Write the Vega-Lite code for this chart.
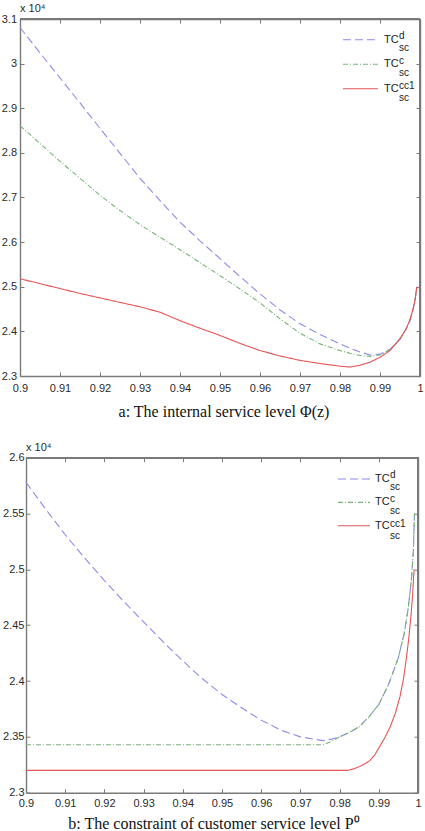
{
  "$schema": "https://vega.github.io/schema/vega-lite/v6.json",
  "padding": {"left": 0, "top": 3, "right": 0, "bottom": 0},
  "spacing": 21.7,
  "resolve": {
    "scale": {"color": "independent", "strokeDash": "independent", "opacity": "independent"},
    "legend": {"color": "independent", "strokeDash": "independent", "opacity": "independent"}
  },
  "config": {
    "font": "Liberation Sans",
    "view": {"stroke": null},
    "axis": {"grid": false, "domainColor": "#7a7a7a", "domainWidth": 1.4, "tickColor": "#7a7a7a", "tickWidth": 1, "tickSize": -4, "labelFont": "Liberation Sans", "labelFontSize": 11, "labelColor": "#2a2a2a", "labelFlush": false, "labelOverlap": false, "titleFont": "Liberation Serif", "titleFontSize": 16, "titleFontWeight": "normal", "titleColor": "#111111"},
    "title": {"fontSize": 11, "fontWeight": "normal", "anchor": "start", "frame": "group", "font": "Liberation Sans", "color": "#2a2a2a", "offset": -1}
  },
  "datasets": {
    "a": [
      {"x":0.9,"y":3.081,"series":"TC_sc^d","sup":"d"},{"x":0.905,"y":3.024,"series":"TC_sc^d","sup":"d"},{"x":0.91,"y":2.968,"series":"TC_sc^d","sup":"d"},{"x":0.915,"y":2.912,"series":"TC_sc^d","sup":"d"},{"x":0.92,"y":2.855,"series":"TC_sc^d","sup":"d"},{"x":0.925,"y":2.799,"series":"TC_sc^d","sup":"d"},{"x":0.93,"y":2.743,"series":"TC_sc^d","sup":"d"},{"x":0.935,"y":2.693,"series":"TC_sc^d","sup":"d"},{"x":0.94,"y":2.645,"series":"TC_sc^d","sup":"d"},{"x":0.945,"y":2.603,"series":"TC_sc^d","sup":"d"},{"x":0.95,"y":2.563,"series":"TC_sc^d","sup":"d"},{"x":0.955,"y":2.523,"series":"TC_sc^d","sup":"d"},{"x":0.96,"y":2.484,"series":"TC_sc^d","sup":"d"},{"x":0.965,"y":2.448,"series":"TC_sc^d","sup":"d"},{"x":0.97,"y":2.417,"series":"TC_sc^d","sup":"d"},{"x":0.975,"y":2.393,"series":"TC_sc^d","sup":"d"},{"x":0.98,"y":2.372,"series":"TC_sc^d","sup":"d"},{"x":0.9825,"y":2.362,"series":"TC_sc^d","sup":"d"},{"x":0.985,"y":2.354,"series":"TC_sc^d","sup":"d"},{"x":0.9875,"y":2.347,"series":"TC_sc^d","sup":"d"},{"x":0.99,"y":2.349,"series":"TC_sc^d","sup":"d"},{"x":0.9925,"y":2.36,"series":"TC_sc^d","sup":"d"},{"x":0.995,"y":2.382,"series":"TC_sc^d","sup":"d"},{"x":0.9965,"y":2.405,"series":"TC_sc^d","sup":"d"},{"x":0.9975,"y":2.425,"series":"TC_sc^d","sup":"d"},{"x":0.9983,"y":2.45,"series":"TC_sc^d","sup":"d"},{"x":0.9988,"y":2.472,"series":"TC_sc^d","sup":"d"},{"x":0.9992,"y":2.5,"series":"TC_sc^d","sup":"d"},
      {"x":0.9,"y":2.861,"series":"TC_sc^c","sup":"c"},{"x":0.905,"y":2.821,"series":"TC_sc^c","sup":"c"},{"x":0.91,"y":2.781,"series":"TC_sc^c","sup":"c"},{"x":0.915,"y":2.743,"series":"TC_sc^c","sup":"c"},{"x":0.92,"y":2.705,"series":"TC_sc^c","sup":"c"},{"x":0.925,"y":2.671,"series":"TC_sc^c","sup":"c"},{"x":0.93,"y":2.639,"series":"TC_sc^c","sup":"c"},{"x":0.935,"y":2.611,"series":"TC_sc^c","sup":"c"},{"x":0.94,"y":2.583,"series":"TC_sc^c","sup":"c"},{"x":0.945,"y":2.554,"series":"TC_sc^c","sup":"c"},{"x":0.95,"y":2.525,"series":"TC_sc^c","sup":"c"},{"x":0.955,"y":2.495,"series":"TC_sc^c","sup":"c"},{"x":0.96,"y":2.464,"series":"TC_sc^c","sup":"c"},{"x":0.965,"y":2.428,"series":"TC_sc^c","sup":"c"},{"x":0.97,"y":2.396,"series":"TC_sc^c","sup":"c"},{"x":0.975,"y":2.372,"series":"TC_sc^c","sup":"c"},{"x":0.98,"y":2.357,"series":"TC_sc^c","sup":"c"},{"x":0.9825,"y":2.351,"series":"TC_sc^c","sup":"c"},{"x":0.985,"y":2.346,"series":"TC_sc^c","sup":"c"},{"x":0.9875,"y":2.344,"series":"TC_sc^c","sup":"c"},{"x":0.99,"y":2.347,"series":"TC_sc^c","sup":"c"},{"x":0.9925,"y":2.359,"series":"TC_sc^c","sup":"c"},{"x":0.995,"y":2.382,"series":"TC_sc^c","sup":"c"},{"x":0.9965,"y":2.405,"series":"TC_sc^c","sup":"c"},{"x":0.9975,"y":2.425,"series":"TC_sc^c","sup":"c"},{"x":0.9983,"y":2.45,"series":"TC_sc^c","sup":"c"},{"x":0.9988,"y":2.472,"series":"TC_sc^c","sup":"c"},{"x":0.9992,"y":2.5,"series":"TC_sc^c","sup":"c"},
      {"x":0.9,"y":2.518,"series":"TC_sc^cc1","sup":"cc1"},{"x":0.905,"y":2.507,"series":"TC_sc^cc1","sup":"cc1"},{"x":0.91,"y":2.496,"series":"TC_sc^cc1","sup":"cc1"},{"x":0.915,"y":2.485,"series":"TC_sc^cc1","sup":"cc1"},{"x":0.92,"y":2.475,"series":"TC_sc^cc1","sup":"cc1"},{"x":0.925,"y":2.465,"series":"TC_sc^cc1","sup":"cc1"},{"x":0.93,"y":2.455,"series":"TC_sc^cc1","sup":"cc1"},{"x":0.935,"y":2.443,"series":"TC_sc^cc1","sup":"cc1"},{"x":0.94,"y":2.424,"series":"TC_sc^cc1","sup":"cc1"},{"x":0.945,"y":2.407,"series":"TC_sc^cc1","sup":"cc1"},{"x":0.95,"y":2.391,"series":"TC_sc^cc1","sup":"cc1"},{"x":0.955,"y":2.373,"series":"TC_sc^cc1","sup":"cc1"},{"x":0.96,"y":2.357,"series":"TC_sc^cc1","sup":"cc1"},{"x":0.965,"y":2.345,"series":"TC_sc^cc1","sup":"cc1"},{"x":0.97,"y":2.335,"series":"TC_sc^cc1","sup":"cc1"},{"x":0.975,"y":2.328,"series":"TC_sc^cc1","sup":"cc1"},{"x":0.98,"y":2.322,"series":"TC_sc^cc1","sup":"cc1"},{"x":0.9825,"y":2.32,"series":"TC_sc^cc1","sup":"cc1"},{"x":0.985,"y":2.324,"series":"TC_sc^cc1","sup":"cc1"},{"x":0.9875,"y":2.331,"series":"TC_sc^cc1","sup":"cc1"},{"x":0.99,"y":2.342,"series":"TC_sc^cc1","sup":"cc1"},{"x":0.9925,"y":2.357,"series":"TC_sc^cc1","sup":"cc1"},{"x":0.995,"y":2.384,"series":"TC_sc^cc1","sup":"cc1"},{"x":0.9965,"y":2.405,"series":"TC_sc^cc1","sup":"cc1"},{"x":0.9975,"y":2.426,"series":"TC_sc^cc1","sup":"cc1"},{"x":0.9983,"y":2.452,"series":"TC_sc^cc1","sup":"cc1"},{"x":0.9988,"y":2.472,"series":"TC_sc^cc1","sup":"cc1"},{"x":0.9992,"y":2.5,"series":"TC_sc^cc1","sup":"cc1"}
    ],
    "b": [
      {"x":0.9,"y":2.578,"series":"TC_sc^d","sup":"d"},{"x":0.905,"y":2.554,"series":"TC_sc^d","sup":"d"},{"x":0.91,"y":2.531,"series":"TC_sc^d","sup":"d"},{"x":0.915,"y":2.51,"series":"TC_sc^d","sup":"d"},{"x":0.92,"y":2.49,"series":"TC_sc^d","sup":"d"},{"x":0.925,"y":2.471,"series":"TC_sc^d","sup":"d"},{"x":0.93,"y":2.453,"series":"TC_sc^d","sup":"d"},{"x":0.935,"y":2.435,"series":"TC_sc^d","sup":"d"},{"x":0.94,"y":2.418,"series":"TC_sc^d","sup":"d"},{"x":0.945,"y":2.402,"series":"TC_sc^d","sup":"d"},{"x":0.95,"y":2.388,"series":"TC_sc^d","sup":"d"},{"x":0.955,"y":2.376,"series":"TC_sc^d","sup":"d"},{"x":0.96,"y":2.365,"series":"TC_sc^d","sup":"d"},{"x":0.965,"y":2.356,"series":"TC_sc^d","sup":"d"},{"x":0.97,"y":2.35,"series":"TC_sc^d","sup":"d"},{"x":0.9758,"y":2.3466,"series":"TC_sc^d","sup":"d"},{"x":0.978,"y":2.348,"series":"TC_sc^d","sup":"d"},{"x":0.98,"y":2.35,"series":"TC_sc^d","sup":"d"},{"x":0.9825,"y":2.354,"series":"TC_sc^d","sup":"d"},{"x":0.985,"y":2.359,"series":"TC_sc^d","sup":"d"},{"x":0.9875,"y":2.368,"series":"TC_sc^d","sup":"d"},{"x":0.99,"y":2.379,"series":"TC_sc^d","sup":"d"},{"x":0.9925,"y":2.397,"series":"TC_sc^d","sup":"d"},{"x":0.995,"y":2.421,"series":"TC_sc^d","sup":"d"},{"x":0.9965,"y":2.443,"series":"TC_sc^d","sup":"d"},{"x":0.9975,"y":2.465,"series":"TC_sc^d","sup":"d"},{"x":0.9983,"y":2.49,"series":"TC_sc^d","sup":"d"},{"x":0.9988,"y":2.515,"series":"TC_sc^d","sup":"d"},{"x":0.9991,"y":2.55,"series":"TC_sc^d","sup":"d"},
      {"x":0.9,"y":2.343,"series":"TC_sc^c","sup":"c"},{"x":0.95,"y":2.343,"series":"TC_sc^c","sup":"c"},{"x":0.9758,"y":2.343,"series":"TC_sc^c","sup":"c"},{"x":0.978,"y":2.346,"series":"TC_sc^c","sup":"c"},{"x":0.98,"y":2.35,"series":"TC_sc^c","sup":"c"},{"x":0.9825,"y":2.354,"series":"TC_sc^c","sup":"c"},{"x":0.985,"y":2.359,"series":"TC_sc^c","sup":"c"},{"x":0.9875,"y":2.368,"series":"TC_sc^c","sup":"c"},{"x":0.99,"y":2.379,"series":"TC_sc^c","sup":"c"},{"x":0.9925,"y":2.397,"series":"TC_sc^c","sup":"c"},{"x":0.995,"y":2.421,"series":"TC_sc^c","sup":"c"},{"x":0.9965,"y":2.443,"series":"TC_sc^c","sup":"c"},{"x":0.9975,"y":2.465,"series":"TC_sc^c","sup":"c"},{"x":0.9983,"y":2.49,"series":"TC_sc^c","sup":"c"},{"x":0.9988,"y":2.515,"series":"TC_sc^c","sup":"c"},{"x":0.9991,"y":2.55,"series":"TC_sc^c","sup":"c"},
      {"x":0.9,"y":2.32,"series":"TC_sc^cc1","sup":"cc1"},{"x":0.95,"y":2.32,"series":"TC_sc^cc1","sup":"cc1"},{"x":0.982,"y":2.32,"series":"TC_sc^cc1","sup":"cc1"},{"x":0.9835,"y":2.3212,"series":"TC_sc^cc1","sup":"cc1"},{"x":0.985,"y":2.3233,"series":"TC_sc^cc1","sup":"cc1"},{"x":0.9865,"y":2.326,"series":"TC_sc^cc1","sup":"cc1"},{"x":0.9878,"y":2.329,"series":"TC_sc^cc1","sup":"cc1"},{"x":0.989,"y":2.334,"series":"TC_sc^cc1","sup":"cc1"},{"x":0.99,"y":2.34,"series":"TC_sc^cc1","sup":"cc1"},{"x":0.9915,"y":2.349,"series":"TC_sc^cc1","sup":"cc1"},{"x":0.9929,"y":2.359,"series":"TC_sc^cc1","sup":"cc1"},{"x":0.9942,"y":2.371,"series":"TC_sc^cc1","sup":"cc1"},{"x":0.9954,"y":2.386,"series":"TC_sc^cc1","sup":"cc1"},{"x":0.9963,"y":2.402,"series":"TC_sc^cc1","sup":"cc1"},{"x":0.9971,"y":2.422,"series":"TC_sc^cc1","sup":"cc1"},{"x":0.9977,"y":2.44,"series":"TC_sc^cc1","sup":"cc1"},{"x":0.9982,"y":2.458,"series":"TC_sc^cc1","sup":"cc1"},{"x":0.9986,"y":2.476,"series":"TC_sc^cc1","sup":"cc1"},{"x":0.999,"y":2.5,"series":"TC_sc^cc1","sup":"cc1"}
    ]
  },
  "vconcat": [
    {
      "width": 400,
      "height": 357,
      "title": {"text": "x 10⁴"},
      "data": {"name": "a"},
      "layer": [
        {
          "mark": {"type": "rule", "color": "#7a7a7a", "strokeWidth": 1.4},
          "encoding": {
            "x": {"datum": 0.9, "type": "quantitative", "axis": null},
            "x2": {"datum": 1},
            "y": {"datum": 3.1, "type": "quantitative", "axis": null}
          }
        },
        {
          "mark": {"type": "rule", "color": "#7a7a7a", "strokeWidth": 1.4},
          "encoding": {
            "x": {"datum": 1, "type": "quantitative", "axis": null},
            "y": {"datum": 2.3, "type": "quantitative", "axis": null},
            "y2": {"datum": 3.1}
          }
        },
        {
          "mark": {"type": "line", "strokeWidth": 1.1},
          "encoding": {
            "x": {"field": "x", "type": "quantitative", "scale": {"domain": [0.9, 1], "nice": false, "zero": false},
              "axis": {"orient": "bottom", "values": [0.9,0.91,0.92,0.93,0.94,0.95,0.96,0.97,0.98,0.99,1], "format": "~g", "labelPadding": 10.8, "title": "a: The internal service level  Φ(z)", "titlePadding": 9.5, "titleX": 203.5}},
            "y": {"field": "y", "type": "quantitative", "scale": {"domain": [2.3, 3.1], "nice": false, "zero": false},
              "axis": {"orient": "left", "values": [2.3,2.4,2.5,2.6,2.7,2.8,2.9,3,3.1], "format": "~g", "labelPadding": 7.4, "title": null, "minExtent": 20}},
            "color": {"field": "series", "type": "nominal", "scale": {"domain": ["TC_sc^d","TC_sc^c","TC_sc^cc1"], "range": ["#8c8cea","#78b478","#e65555"]},
              "legend": {"title": null, "orient": "none", "direction": "vertical", "legendX": 322, "legendY": 2.2, "symbolType": "stroke", "symbolSize": 1225, "symbolStrokeWidth": 1.1, "labelExpr": "'TC'", "labelFont": "Liberation Sans", "labelFontSize": 11, "labelColor": "#222222", "labelOffset": 5, "rowPadding": 0.5, "padding": 0}},
            "strokeDash": {"field": "series", "type": "nominal", "scale": {"domain": ["TC_sc^d","TC_sc^c","TC_sc^cc1"], "range": [[8,4],[5,2,1,2],[1,0]]},
              "legend": {"title": null, "orient": "none", "direction": "vertical", "legendX": 322, "legendY": 2.2, "symbolType": "stroke", "symbolSize": 1225, "symbolStrokeWidth": 1.1, "labelExpr": "'TC'", "labelFont": "Liberation Sans", "labelFontSize": 11, "labelColor": "#222222", "labelOffset": 5, "rowPadding": 0.5, "padding": 0}},
            "opacity": {"field": "sup", "type": "ordinal", "scale": {"domain": ["d","c","cc1"], "range": [1, 1]},
              "legend": {"title": null, "orient": "none", "direction": "vertical", "legendX": 369, "legendY": 11.7, "symbolType": "stroke", "symbolSize": 1, "symbolStrokeWidth": 0, "labelExpr": "[datum.label, 'sc']", "labelFont": "Liberation Sans", "labelFontSize": 10, "labelLineHeight": 12, "labelColor": "#222222", "labelOffset": 0, "rowPadding": 3, "padding": 0}}
          }
        },
        {
          "mark": {"type": "line", "opacity": 0},
          "encoding": {
            "x": {"field": "x", "type": "quantitative", "axis": {"orient": "top", "values": [0.9,0.91,0.92,0.93,0.94,0.95,0.96,0.97,0.98,0.99,1], "labels": false, "title": null}},
            "y": {"field": "y", "type": "quantitative", "axis": {"orient": "right", "values": [2.3,2.4,2.5,2.6,2.7,2.8,2.9,3,3.1], "labels": false, "title": null}}
          }
        }
      ],
      "resolve": {"axis": {"x": "independent", "y": "independent"}}
    },
    {
      "width": 398,
      "height": 335,
      "title": {"text": "x 10⁴", "dx": 6},
      "data": {"name": "b"},
      "layer": [
        {
          "mark": {"type": "rule", "color": "#7a7a7a", "strokeWidth": 1.4},
          "encoding": {
            "x": {"datum": 0.9, "type": "quantitative", "axis": null},
            "x2": {"datum": 1},
            "y": {"datum": 2.6, "type": "quantitative", "axis": null}
          }
        },
        {
          "mark": {"type": "rule", "color": "#7a7a7a", "strokeWidth": 1.4},
          "encoding": {
            "x": {"datum": 1, "type": "quantitative", "axis": null},
            "y": {"datum": 2.3, "type": "quantitative", "axis": null},
            "y2": {"datum": 2.6}
          }
        },
        {
          "mark": {"type": "line", "strokeWidth": 1.1},
          "encoding": {
            "x": {"field": "x", "type": "quantitative", "scale": {"domain": [0.9, 1], "range": [6, 398], "nice": false, "zero": false},
              "axis": {"orient": "bottom", "values": [0.9,0.91,0.92,0.93,0.94,0.95,0.96,0.97,0.98,0.99,1], "format": "~g", "labelPadding": 8.8, "title": "b: The constraint of customer service level  P⁰", "titlePadding": 7, "titleX": 193.5}},
            "y": {"field": "y", "type": "quantitative", "scale": {"domain": [2.3, 2.6], "nice": false, "zero": false},
              "axis": {"orient": "left", "offset": -6, "values": [2.3,2.35,2.4,2.45,2.5,2.55,2.6], "format": "~g", "labelPadding": 6, "title": null}},
            "color": {"field": "series", "type": "nominal", "scale": {"domain": ["TC_sc^d","TC_sc^c","TC_sc^cc1"], "range": ["#8c8cea","#78b478","#e65555"]},
              "legend": {"title": null, "orient": "none", "direction": "vertical", "legendX": 317, "legendY": 4.3, "symbolType": "stroke", "symbolSize": 1024, "symbolStrokeWidth": 1.1, "labelExpr": "'TC'", "labelFont": "Liberation Sans", "labelFontSize": 11, "labelColor": "#222222", "labelOffset": 4, "rowPadding": 1.35, "padding": 0}},
            "strokeDash": {"field": "series", "type": "nominal", "scale": {"domain": ["TC_sc^d","TC_sc^c","TC_sc^cc1"], "range": [[8,4],[5,2,1,2],[1,0]]},
              "legend": {"title": null, "orient": "none", "direction": "vertical", "legendX": 317, "legendY": 4.3, "symbolType": "stroke", "symbolSize": 1024, "symbolStrokeWidth": 1.1, "labelExpr": "'TC'", "labelFont": "Liberation Sans", "labelFontSize": 11, "labelColor": "#222222", "labelOffset": 4, "rowPadding": 1.35, "padding": 0}},
            "opacity": {"field": "sup", "type": "ordinal", "scale": {"domain": ["d","c","cc1"], "range": [1, 1]},
              "legend": {"title": null, "orient": "none", "direction": "vertical", "legendX": 360, "legendY": 12.3, "symbolType": "stroke", "symbolSize": 1, "symbolStrokeWidth": 0, "labelExpr": "[datum.label, 'sc']", "labelFont": "Liberation Sans", "labelFontSize": 10, "labelLineHeight": 12, "labelColor": "#222222", "labelOffset": 0, "rowPadding": 2.35, "padding": 0}}
          }
        },
        {
          "mark": {"type": "line", "opacity": 0},
          "encoding": {
            "x": {"field": "x", "type": "quantitative", "axis": {"orient": "top", "values": [0.9,0.91,0.92,0.93,0.94,0.95,0.96,0.97,0.98,0.99,1], "labels": false, "title": null}},
            "y": {"field": "y", "type": "quantitative", "axis": {"orient": "right", "values": [2.3,2.35,2.4,2.45,2.5,2.55,2.6], "labels": false, "title": null}}
          }
        }
      ],
      "resolve": {"axis": {"x": "independent", "y": "independent"}}
    }
  ]
}
